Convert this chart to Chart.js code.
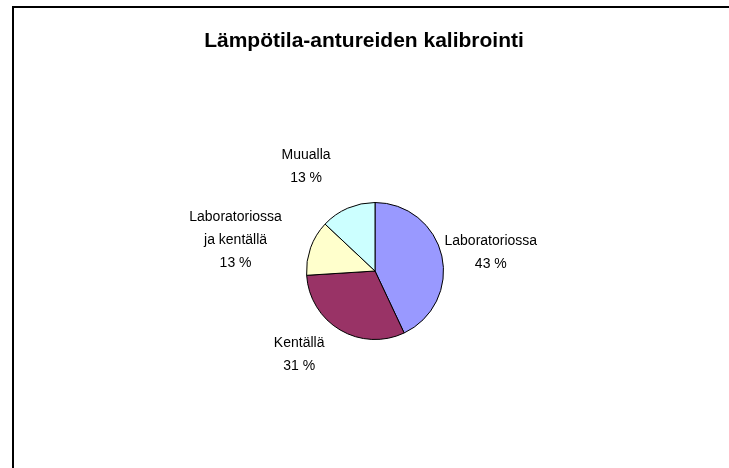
<!DOCTYPE html>
<html>
<head>
<meta charset="utf-8">
<script src="https://cdn.jsdelivr.net/npm/chart.js@4"></script>
<style>
html, body { margin: 0; padding: 0; background: #fff; }
#wrap { width: 729px; height: 468px; }
</style>
</head>
<body>
<div id="wrap"><canvas id="graph-calibration"></canvas></div>
<script>
// data
const chartTitle = 'Lämpötila-antureiden kalibrointi';
const categories = [['Laboratoriossa'], ['Kentällä'], ['Laboratoriossa', 'ja kentällä'], ['Muualla']];
const percents = [43, 31, 13, 13];
const sliceColors = ['#9999FF', '#993366', '#FFFFCC', '#CCFFFF'];

// small corrections to the automatic label placement
const labelNudge = [[-6, 4], [-23, -4], [-22, 7], [-28, -11]];

const FONT = '"Liberation Sans", Arial, sans-serif';

const pieDecor = {
    id: 'pieDecor',
    beforeDraw(chart) {
        const ctx = chart.ctx;
        ctx.save();
        ctx.fillStyle = '#fff';
        ctx.fillRect(0, 0, chart.width, chart.height);
        // outer frame (only top and left edges are inside the picture)
        ctx.strokeStyle = '#000';
        ctx.lineWidth = 2;
        ctx.beginPath();
        ctx.moveTo(13, chart.height);
        ctx.lineTo(13, 7);
        ctx.lineTo(chart.width, 7);
        ctx.stroke();
        // title
        ctx.fillStyle = '#000';
        ctx.font = 'bold 21px ' + FONT;
        ctx.textAlign = 'center';
        ctx.textBaseline = 'middle';
        ctx.fillText(chartTitle, 364, 41);
        ctx.restore();
    },
    afterDatasetsDraw(chart) {
        const ctx = chart.ctx;
        const meta = chart.getDatasetMeta(0);
        const lineH = 23;
        ctx.save();
        ctx.fillStyle = '#000';
        ctx.font = '14px ' + FONT;
        ctx.textAlign = 'center';
        ctx.textBaseline = 'middle';
        meta.data.forEach((arc, i) => {
            const p = arc.getProps(['x', 'y', 'startAngle', 'endAngle', 'outerRadius'], true);
            const mid = (p.startAngle + p.endAngle) / 2;
            const dx = Math.cos(mid), dy = Math.sin(mid);
            const lines = categories[i].concat([percents[i] + ' %']);
            const w = Math.max(...lines.map(t => ctx.measureText(t).width));
            const h = lines.length * lineH;
            const ax = p.x + dx * (p.outerRadius + 10);
            const ay = p.y + dy * (p.outerRadius + 10);
            const cx = ax + dx * w / 2 + labelNudge[i][0];
            const cy = ay + dy * h / 2 + labelNudge[i][1];
            lines.forEach((t, k) => {
                ctx.fillText(t, cx, cy - h / 2 + lineH / 2 + k * lineH);
            });
        });
        ctx.restore();
    }
};

var graphCalibration = document.getElementById('graph-calibration').getContext('2d');
var calibration = new Chart(graphCalibration, {
    type: 'pie',
    data: {
        labels: categories.map(c => c.join(' ')),
        datasets: [{
            data: percents,
            backgroundColor: sliceColors,
            borderColor: '#000',
            borderWidth: 1
        }]
    },
    options: {
        responsive: true,
        maintainAspectRatio: false,
        animation: false,
        layout: { padding: { left: 300, right: 279, top: 202, bottom: 128 } },
        plugins: {
            legend: { display: false },
            title: { display: false },
            tooltip: { enabled: false }
        }
    },
    plugins: [pieDecor]
});
</script>
</body>
</html>
